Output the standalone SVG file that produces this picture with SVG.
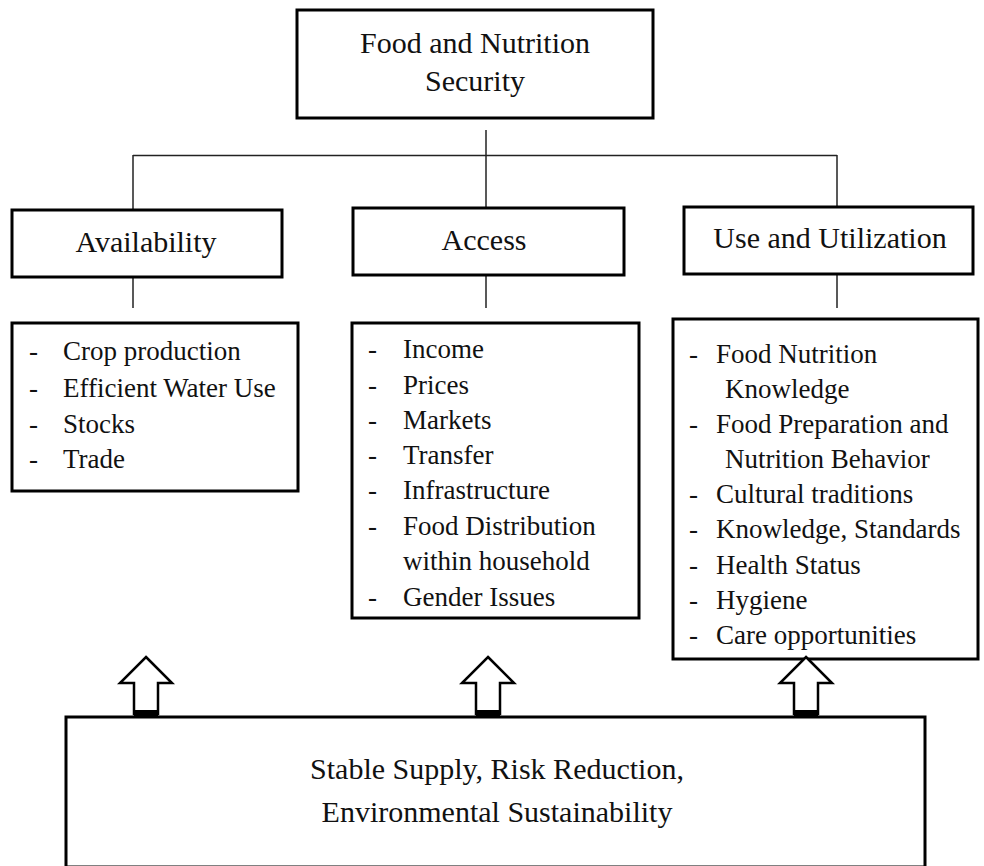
<svg xmlns="http://www.w3.org/2000/svg" width="984" height="866" viewBox="0 0 984 866" font-family="'Liberation Serif', 'DejaVu Serif', serif">
<style>
.box{fill:#fff;stroke:#000;stroke-width:3}
.ln{fill:none;stroke:#222;stroke-width:1.5}
text{font-family:'Liberation Serif','DejaVu Serif',serif;fill:#111}
.h{font-size:30px;text-anchor:middle}
.l{font-size:27px}
.arr{fill:#fff;stroke:#000;stroke-width:2.5;stroke-linejoin:miter}
</style>
<rect width="984" height="866" fill="#fff"/>
<g id="connectors">
<line class="ln" x1="486" y1="130" x2="486" y2="208"/>
<line class="ln" x1="133" y1="155.5" x2="837" y2="155.5"/>
<line class="ln" x1="133" y1="155" x2="133" y2="210"/>
<line class="ln" x1="837" y1="155" x2="837" y2="207"/>
<line class="ln" x1="133" y1="277" x2="133" y2="308"/>
<line class="ln" x1="486" y1="275" x2="486" y2="308"/>
<line class="ln" x1="837" y1="274" x2="837" y2="308"/>
</g>
<g id="food-security">
<rect class="box" x="297" y="10" width="356" height="108"/>
<text class="h" x="475" y="53">Food and Nutrition</text>
<text class="h" x="475" y="91">Security</text>
</g>
<g id="availability">
<rect class="box" x="12" y="210" width="270" height="67"/>
<text class="h" x="146" y="252">Availability</text>
</g>
<g id="access">
<rect class="box" x="353" y="208" width="271" height="67"/>
<text class="h" x="484" y="250">Access</text>
</g>
<g id="use">
<rect class="box" x="684" y="207" width="289" height="67"/>
<text class="h" x="830" y="248">Use and Utilization</text>
</g>
<g id="availability-list" class="l">
<rect class="box" x="12" y="323" width="286" height="168"/>
<text x="29" y="360">-</text><text x="63" y="360">Crop production</text>
<text x="29" y="397">-</text><text x="63" y="397">Efficient Water Use</text>
<text x="29" y="433">-</text><text x="63" y="433">Stocks</text>
<text x="29" y="468">-</text><text x="63" y="468">Trade</text>
</g>
<g id="access-list" class="l">
<rect class="box" x="352" y="323" width="287" height="295"/>
<text x="368" y="358">-</text><text x="403" y="358">Income</text>
<text x="368" y="394">-</text><text x="403" y="394">Prices</text>
<text x="368" y="429">-</text><text x="403" y="429">Markets</text>
<text x="368" y="464">-</text><text x="403" y="464">Transfer</text>
<text x="368" y="499">-</text><text x="403" y="499">Infrastructure</text>
<text x="368" y="535">-</text><text x="403" y="535">Food Distribution</text>
<text x="403" y="570">within household</text>
<text x="368" y="606">-</text><text x="403" y="606">Gender Issues</text>
</g>
<g id="use-list" class="l">
<rect class="box" x="673" y="319" width="305" height="340"/>
<text x="689" y="363">-</text><text x="716" y="363">Food Nutrition</text>
<text x="725" y="398">Knowledge</text>
<text x="689" y="433">-</text><text x="716" y="433">Food Preparation and</text>
<text x="725" y="468">Nutrition Behavior</text>
<text x="689" y="503">-</text><text x="716" y="503">Cultural traditions</text>
<text x="689" y="538">-</text><text x="716" y="538">Knowledge, Standards</text>
<text x="689" y="574">-</text><text x="716" y="574">Health Status</text>
<text x="689" y="609">-</text><text x="716" y="609">Hygiene</text>
<text x="689" y="644">-</text><text x="716" y="644">Care opportunities</text>
</g>
<g id="arrows">
<polygon class="arr" points="146,657 172,683 158,683 158,714 134,714 134,683 120,683"/>
<rect x="134" y="710" width="24" height="7" fill="#000"/>
<polygon class="arr" points="488,657 514,683 500,683 500,714 476,714 476,683 462,683"/>
<rect x="476" y="710" width="24" height="7" fill="#000"/>
<polygon class="arr" points="806,657 832,683 818,683 818,714 794,714 794,683 780,683"/>
<rect x="794" y="710" width="24" height="7" fill="#000"/>
</g>
<g id="foundation">
<rect class="box" x="66" y="717" width="859" height="150"/>
<text class="h" x="497" y="779">Stable Supply, Risk Reduction,</text>
<text class="h" x="497" y="822">Environmental Sustainability</text>
</g>
</svg>
